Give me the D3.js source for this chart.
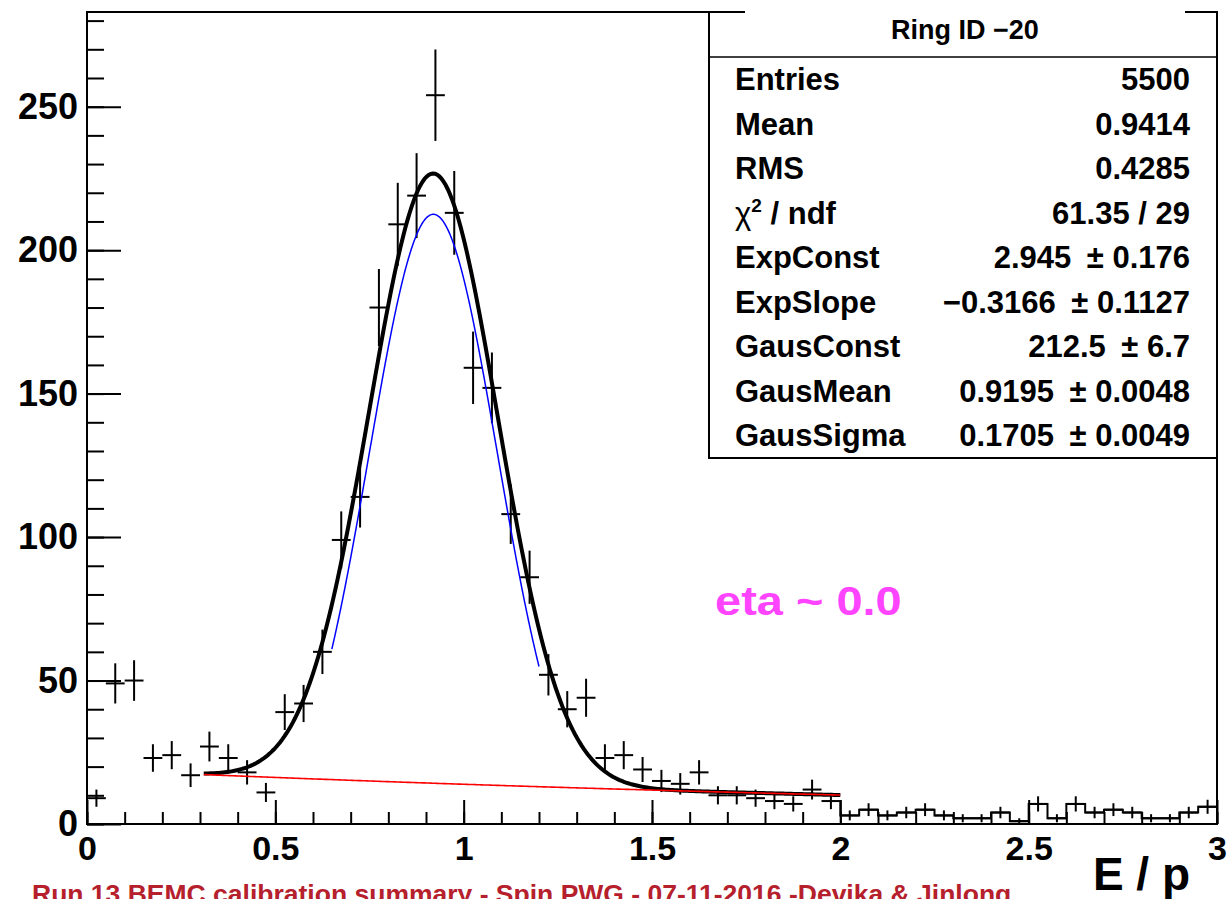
<!DOCTYPE html>
<meta charset="utf-8">
<style>
body { margin: 0; background: #fff; }
text { font-family: "Liberation Sans", Arial, sans-serif; font-weight: bold; }
.axis path { display: none; }
.axis line { stroke: #000; stroke-width: 2px; }
</style>
<body>
<script src="https://d3js.org/d3.v7.min.js"></script>
<script>

// histogram: E/p, 60 bins of 0.05 from 0 to 3
var binEdges = d3.range(61).map(function(i) { return +(i * 0.05).toFixed(2); });
var counts = [9, 49, 50, 23, 24, 17, 27, 23, 18, 11,
              39, 42, 60, 99, 114, 180, 209, 219, 254, 213,
              159, 152, 108, 86, 52, 40, 44, 23, 24, 19,
              15, 14, 18, 10, 10, 9, 8, 7, 12, 8,
              3, 5, 3, 4, 5, 3, 2, 2, 4, 1,
              7, 2, 7, 4, 5, 4, 2, 2, 4, 6];

// fit results as printed in the stats box
var expConst = 2.945, expSlope = -0.3166;
var gausConst = 212.5, gausMean = 0.9195, gausSigma = 0.1705;
var fitRange = [0.31, 2.0];
var gausRange = [0.65, 1.2];

var xTicks = [0, 0.5, 1, 1.5, 2, 2.5, 3];
var yTicks = [0, 50, 100, 150, 200, 250];

var statLabels = ["Entries", "Mean", "RMS", "chi2", "ExpConst", "ExpSlope", "GausConst", "GausMean", "GausSigma"];
var statValues = ["5500", "0.9414", "0.4285", "61.35 / 29", "2.945\u2002\u00b1 0.176", "\u22120.3166\u2002\u00b1 0.1127",
                  "212.5\u2002\u00b1 6.7", "0.9195\u2002\u00b1 0.0048", "0.1705\u2002\u00b1 0.0049"];

var W = 1231, H = 899;
var x = d3.scaleLinear().domain([0, 3]).range([87, 1217]);
var y = d3.scaleLinear().domain([0, 283]).range([824, 12]);

var svg = d3.select("body").append("svg")
    .attr("width", W)
    .attr("height", H);

// step outline beyond the fit range
var stepStart = 40;
var stepPts = [[x(binEdges[stepStart]), y(counts[stepStart - 1])]];
for (var i = stepStart; i < counts.length; i++) {
  stepPts.push([x(binEdges[i]), y(counts[i])]);
  stepPts.push([x(binEdges[i + 1]), y(counts[i])]);
}
svg.append("path")
    .attr("d", d3.line()(stepPts))
    .attr("fill", "none")
    .attr("stroke", "#000")
    .attr("stroke-width", 2);

// error crosses
var bins = counts.map(function(c, i) { return {lo: binEdges[i], hi: binEdges[i + 1], n: c}; });
var g = svg.append("g").attr("stroke", "#000").attr("stroke-width", 2);
g.selectAll("line.h").data(bins).enter().append("line")
    .attr("x1", function(d) { return x(d.lo); })
    .attr("x2", function(d) { return x(d.hi); })
    .attr("y1", function(d) { return y(d.n); })
    .attr("y2", function(d) { return y(d.n); });
g.selectAll("line.v").data(bins).enter().append("line")
    .attr("x1", function(d) { return x((d.lo + d.hi) / 2); })
    .attr("x2", function(d) { return x((d.lo + d.hi) / 2); })
    .attr("y1", function(d) { return y(d.n - Math.sqrt(d.n)); })
    .attr("y2", function(d) { return y(d.n + Math.sqrt(d.n)); });

// fit functions
function bkg(v) { return Math.exp(expConst + expSlope * v); }
function gaus(v) { var t = (v - gausMean) / gausSigma; return gausConst * Math.exp(-0.5 * t * t); }
function sample(r, f) {
  return d3.range(301).map(function(k) {
    var v = r[0] + (r[1] - r[0]) * k / 300;
    return [x(v), y(f(v))];
  });
}
var line = d3.line().curve(d3.curveLinear);
svg.append("path").attr("d", line(sample(fitRange, function(v) { return bkg(v) + gaus(v); })))
    .attr("fill", "none").attr("stroke", "#000").attr("stroke-width", 4);
svg.append("path").attr("d", line(sample(fitRange, bkg)))
    .attr("fill", "none").attr("stroke", "#ff0000").attr("stroke-width", 1.6);
svg.append("path").attr("d", line(sample(gausRange, gaus)))
    .attr("fill", "none").attr("stroke", "#0000ff").attr("stroke-width", 1.5);

// axes
svg.append("g").attr("class", "axis")
    .attr("transform", "translate(0,824)")
    .call(d3.axisBottom(x).tickValues(d3.range(31).map(function(i) { return i / 10; }))
        .tickSizeInner(-12).tickSizeOuter(0).tickFormat(""));
var xa = svg.append("g").attr("class", "axis")
    .attr("transform", "translate(0,824)")
    .call(d3.axisBottom(x).tickValues(xTicks).tickSizeInner(-24).tickSizeOuter(0)
        .tickPadding(12).tickFormat(d3.format("")));
xa.selectAll("text").attr("fill", "#000").style("font-size", "34px");

svg.append("g").attr("class", "axis")
    .attr("transform", "translate(87,0)")
    .call(d3.axisLeft(y).tickValues(d3.range(29).map(function(i) { return i * 10; }))
        .tickSizeInner(-17).tickSizeOuter(0).tickFormat(""));
var ya = svg.append("g").attr("class", "axis")
    .attr("transform", "translate(87,0)")
    .call(d3.axisLeft(y).tickValues(yTicks).tickSizeInner(-34).tickSizeOuter(0)
        .tickPadding(9).tickFormat(d3.format("")));
ya.selectAll("text").attr("fill", "#000").style("font-size", "36px");

// frame
svg.append("rect")
    .attr("x", 87).attr("y", 12)
    .attr("width", 1130).attr("height", 812)
    .attr("fill", "none").attr("stroke", "#000").attr("stroke-width", 2);

// stats box
svg.append("rect")
    .attr("x", 709).attr("y", 12)
    .attr("width", 508).attr("height", 446)
    .attr("fill", "#fff").attr("stroke", "#000").attr("stroke-width", 2);
svg.append("rect")
    .attr("x", 745).attr("y", 0)
    .attr("width", 440).attr("height", 40)
    .attr("fill", "#fff");
svg.append("line")
    .attr("x1", 709).attr("x2", 1217).attr("y1", 57).attr("y2", 57)
    .attr("stroke", "#000").attr("stroke-width", 1.5);
svg.append("text")
    .attr("x", 965).attr("y", 39)
    .attr("text-anchor", "middle")
    .style("font-size", "27px")
    .text("Ring ID \u221220");

var rowY = d3.scaleLinear().domain([0, statLabels.length - 1]).range([90, 446]);
statLabels.forEach(function(lab, i) {
  var t = svg.append("text")
      .attr("x", 735).attr("y", rowY(i))
      .style("font-size", "31px");
  if (lab === "chi2") {
    t.append("tspan").style("font-weight", "normal").text("\u03c7");
    t.append("tspan").attr("dy", -12).style("font-size", "19px").text("2");
    t.append("tspan").attr("dy", 12).text(" / ndf");
  } else {
    t.text(lab);
  }
  svg.append("text")
      .attr("x", 1190).attr("y", rowY(i))
      .attr("text-anchor", "end")
      .style("font-size", "31px")
      .text(statValues[i]);
});

// labels
svg.append("text")
    .attr("x", 1190).attr("y", 890)
    .attr("text-anchor", "end")
    .style("font-size", "46px")
    .text("E / p");

svg.append("text")
    .attr("transform", "translate(715,615) scale(1,0.88)")
    .attr("fill", "#ff44ff")
    .style("font-size", "47px")
    .text("eta ~ 0.0");

svg.append("text")
    .attr("x", 32).attr("y", 903)
    .attr("fill", "#b5202c")
    .style("font-size", "26.5px")
    .text("Run 13 BEMC calibration summary - Spin PWG - 07-11-2016 -Devika & Jinlong");

</script>
</body>
